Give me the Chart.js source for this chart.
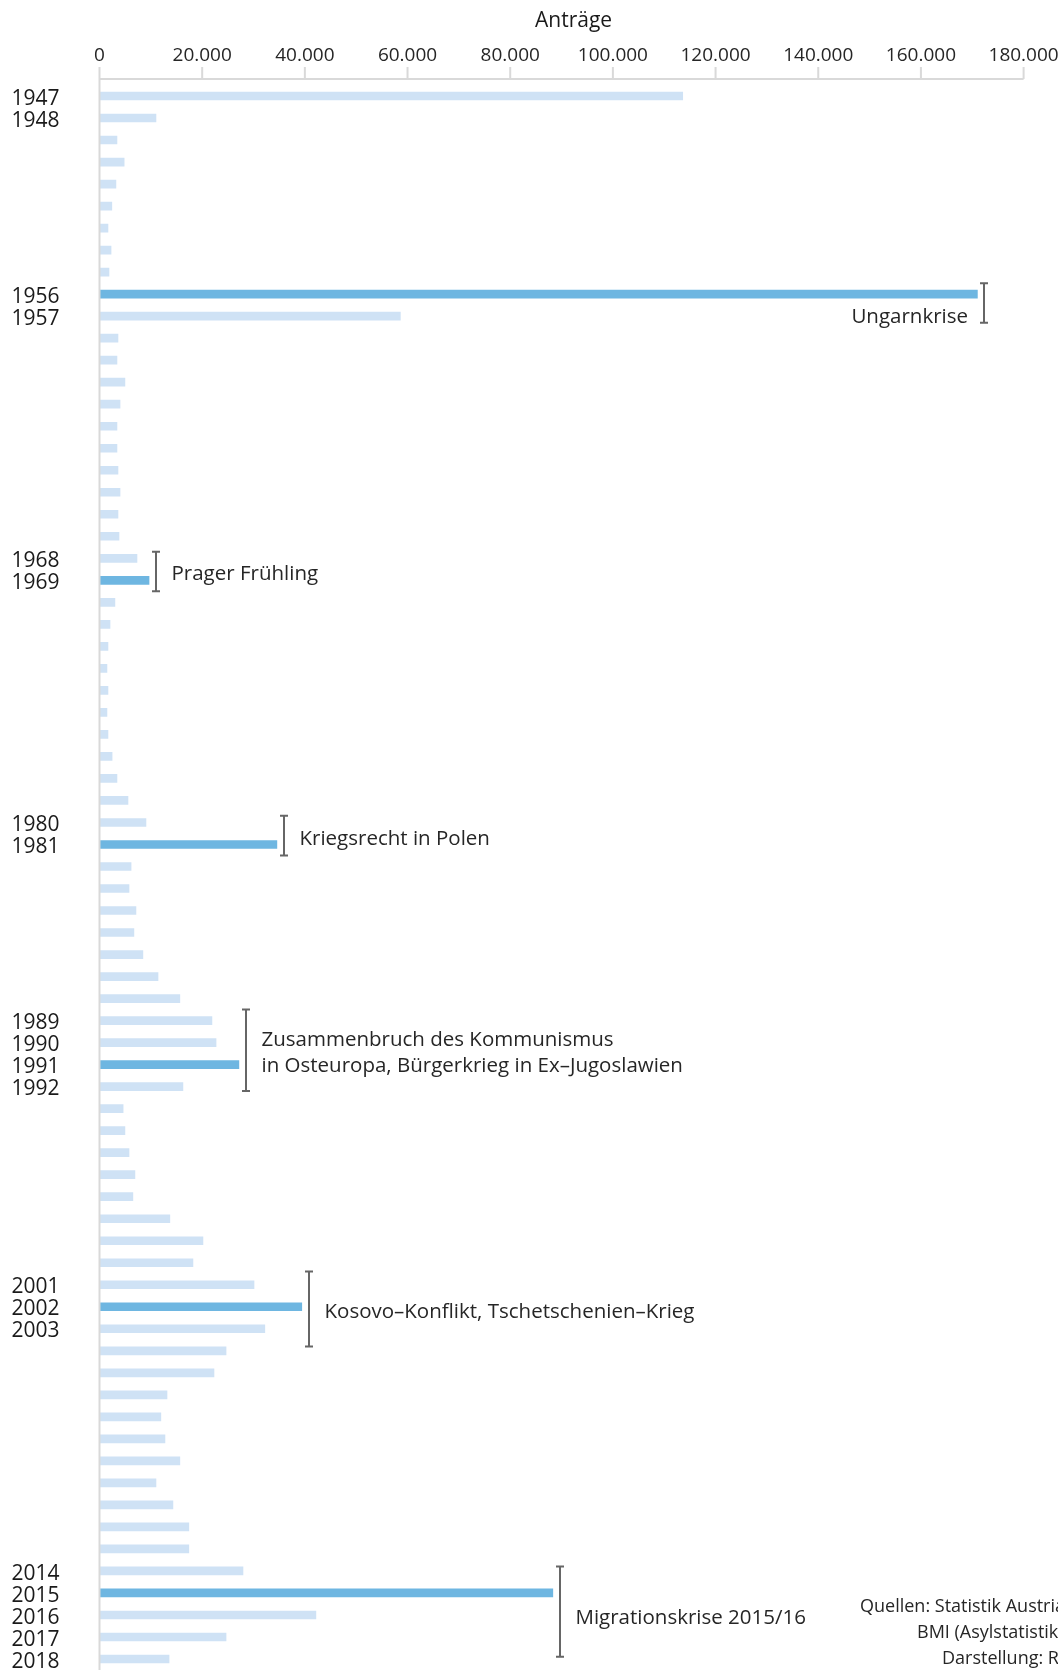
<!DOCTYPE html>
<html lang="de">
<head>
<meta charset="utf-8">
<title>Asylanträge in Österreich 1947–2018</title>
<script src="https://cdn.jsdelivr.net/npm/chart.js@4"></script>
<style>
  html, body { margin: 0; padding: 0; background: #fff; }
  #wrap { width: 1058px; height: 1670px; position: relative; }
</style>
</head>
<body>
<div id="wrap"><canvas id="canvas"></canvas></div>
<script>
// Jahre (Kategorien)
const years = [
  '1947','1948','1949','1950','1951','1952','1953','1954','1955','1956','1957',
  '1958','1959','1960','1961','1962','1963','1964','1965','1966','1967','1968','1969',
  '1970','1971','1972','1973','1974','1975','1976','1977','1978','1979','1980',
  '1981','1982','1983','1984','1985','1986','1987','1988','1989','1990','1991','1992',
  '1993','1994','1995','1996','1997','1998','1999','2000','2001','2002','2003',
  '2004','2005','2006','2007','2008','2009','2010','2011','2012','2013','2014','2015','2016','2017','2018'
];

// Asylanträge pro Jahr
const antraege = [
  113600, 11000, 3400, 4800, 3200, 2400, 1650, 2250, 1850, 171000, 58600,
  3600, 3400, 4950, 4000, 3400, 3400, 3600, 4000, 3600, 3800, 7300, 9650,
  3000, 2050, 1650, 1450, 1650, 1450, 1650, 2450, 3400, 5550, 9050,
  34550, 6150, 5750, 7100, 6700, 8450, 11400, 15650, 21900, 22700, 27150, 16250,
  4600, 4950, 5750, 6900, 6500, 13700, 20150, 18200, 30100, 39400, 32200,
  24650, 22300, 13150, 11950, 12750, 15650, 11000, 14300, 17400, 17400, 27950, 88300, 42150, 24650, 13550
];

// beschriftete Jahre und hervorgehobene Jahre
const labeledYears = ['1947','1948','1956','1957','1968','1969','1980','1981','1989','1990','1991','1992',
  '2001','2002','2003','2014','2015','2016','2017','2018'];
const highlightYears = ['1956','1969','1981','1991','2002','2015'];

// x-Achse
const xTicks = [0, 20000, 40000, 60000, 80000, 100000, 120000, 140000, 160000, 180000];

// Ereignisse (Klammern), von/bis in Jahren
const events = [
  { from: 1955.5, to: 1957.3, lines: ['Ungarnkrise'], left: true, textYear: 1957 },
  { from: 1967.7, to: 1969.5, lines: ['Prager Frühling'] },
  { from: 1979.7, to: 1981.5, lines: ['Kriegsrecht in Polen'] },
  { from: 1988.5, to: 1992.2, lines: ['Zusammenbruch des Kommunismus', 'in Osteuropa, Bürgerkrieg in Ex–Jugoslawien'] },
  { from: 2000.4, to: 2003.8, lines: ['Kosovo–Konflikt, Tschetschenien–Krieg'] },
  { from: 2013.8, to: 2017.9, lines: ['Migrationskrise 2015/16'], textYear: 2016 }
];

const sourceLines = ['Quellen: Statistik Austria,', 'BMI (Asylstatistik)', 'Darstellung: R'];

const lightBlue = 'rgb(207, 226, 245)';
const darkBlue = 'rgb(110, 182, 225)';
const font = '"Open Sans", "Noto Sans", sans-serif';

function fmt(v) {
  return String(v).replace(/\B(?=(\d{3})+(?!\d))/g, '.');
}

const extras = {
  id: 'extras',
  afterDatasetsDraw(chart) {
    const { ctx, chartArea, scales: { x, y } } = chart;
    const axisY = chartArea.top - 6;
    const first = Number(years[0]);
    const yPix = yr => y.getPixelForValue(yr - first);

    ctx.save();
    // Achsenlinien
    ctx.strokeStyle = '#d9d9d9';
    ctx.lineWidth = 2;
    ctx.beginPath();
    ctx.moveTo(x.left, axisY);
    ctx.lineTo(x.right, axisY);
    xTicks.forEach(t => {
      const px = x.getPixelForValue(t);
      ctx.moveTo(px, axisY);
      ctx.lineTo(px, axisY - 12);
    });
    ctx.moveTo(chartArea.left, axisY);
    ctx.lineTo(chartArea.left, chartArea.bottom);
    ctx.stroke();

    // Titel
    ctx.fillStyle = '#1a1a1a';
    ctx.font = '21px ' + font;
    ctx.textAlign = 'center';
    ctx.textBaseline = 'middle';
    ctx.fillText('Anträge', (x.left + x.right) / 2 + 12, 21);

    // Klammern und Texte
    ctx.font = '20.5px ' + font;
    events.forEach(ev => {
      let max = 0;
      years.forEach((yr, i) => {
        const n = Number(yr);
        if (n >= ev.from && n <= ev.to) max = Math.max(max, antraege[i]);
      });
      const bx = Math.round(x.getPixelForValue(max)) + 7;
      const top = yPix(ev.from), bot = yPix(ev.to);
      ctx.strokeStyle = '#666';
      ctx.lineWidth = 2;
      ctx.beginPath();
      ctx.moveTo(bx, top); ctx.lineTo(bx, bot);
      ctx.moveTo(bx - 4, top); ctx.lineTo(bx + 4, top);
      ctx.moveTo(bx - 4, bot); ctx.lineTo(bx + 4, bot);
      ctx.stroke();

      ctx.fillStyle = '#262626';
      if (ev.left) {
        ctx.textAlign = 'right';
        ctx.fillText(ev.lines[0], bx - 16, yPix(ev.textYear) + 1);
      } else {
        ctx.textAlign = 'left';
        const mid = (ev.textYear ? yPix(ev.textYear) : (top + bot) / 2) + 3;
        const lh = 26.5;
        ev.lines.forEach((l, k) => {
          ctx.fillText(l, bx + 15.5, mid + (k - (ev.lines.length - 1) / 2) * lh);
        });
      }
    });

    // Quellen
    ctx.font = '18px ' + font;
    ctx.textAlign = 'left';
    ctx.fillStyle = '#262626';
    const sx = [860, 917, 942];
    sourceLines.forEach((l, k) => ctx.fillText(l, sx[k], 1607 + k * 25.8));
    ctx.restore();
  }
};

new Chart(document.getElementById('canvas').getContext('2d'), {
  type: 'bar',
  data: {
    labels: years,
    datasets: [{
      label: 'Anträge',
      data: antraege,
      backgroundColor: years.map(y => highlightYears.includes(y) ? darkBlue : lightBlue),
      borderWidth: 0,
      barThickness: 8
    }]
  },
  options: {
    indexAxis: 'y',
    responsive: true,
    maintainAspectRatio: false,
    animation: false,
    layout: { autoPadding: false, padding: { top: 0, left: 0, right: 34.4, bottom: 0 } },
    plugins: { legend: { display: false }, tooltip: { enabled: false }, title: { display: false } },
    scales: {
      x: {
        position: 'top',
        min: 0,
        max: 180000,
        afterFit: s => {
          s.height = 85;
          s.paddingLeft = 0; s.paddingRight = 0; s.paddingTop = 0; s.paddingBottom = 0;
        },
        afterBuildTicks: s => { s.ticks = xTicks.map(v => ({ value: v })); },
        grid: { display: false, drawTicks: true, tickLength: 18 },
        border: { display: false },
        ticks: {
          padding: 0,
          color: '#262626',
          font: { family: font, size: 19 },
          maxRotation: 0,
          callback: v => fmt(v)
        }
      },
      y: {
        afterFit: s => {
          s.width = 99.5;
          s.paddingLeft = 0; s.paddingRight = 0; s.paddingTop = 0; s.paddingBottom = 0;
        },
        grid: { display: false, drawTicks: true, tickLength: 40 },
        border: { display: false },
        ticks: {
          autoSkip: false,
          padding: 0,
          color: '#1a1a1a',
          // zweizeilig mit kleiner Zeilenhöhe: Jahreszahl sitzt etwas unter der Balkenmitte
          font: { family: font, size: 21, lineHeight: 0.25 },
          callback: function (v) {
            const lab = this.getLabelForValue(v);
            return labeledYears.includes(lab) ? ['', lab] : '';
          }
        }
      }
    }
  },
  plugins: [extras]
});
</script>
</body>
</html>
